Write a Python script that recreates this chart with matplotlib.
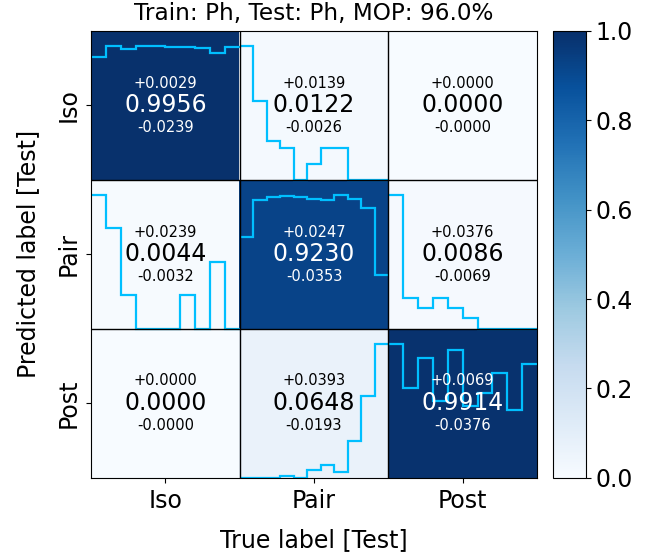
import numpy as np
import matplotlib
matplotlib.use("Agg")
import matplotlib.pyplot as plt

labels = ["Iso", "Pair", "Post"]
title = "Train: Ph, Test: Ph, MOP: 96.0%"

# confusion matrix (rows: predicted, cols: true)
cm = [[0.9956, 0.0122, 0.0000],
      [0.0044, 0.9230, 0.0086],
      [0.0000, 0.0648, 0.9914]]
err_plus = [[0.0029, 0.0139, 0.0000],
            [0.0239, 0.0247, 0.0376],
            [0.0000, 0.0393, 0.0069]]
err_minus = [[0.0239, 0.0026, 0.0000],
             [0.0032, 0.0353, 0.0069],
             [0.0000, 0.0193, 0.0376]]

# per-cell histograms (relative to max), None = no samples
hist_00 = [0.919, 0.999, 0.979, 0.997, 1.000, 0.993, 0.993, 0.987, 0.949, 0.991]
hist_01 = [1.000, 0.588, 0.294, 0.235, 0.0, 0.118, 0.235, 0.235, 0.0, 0.0, 0.0]
hist_02 = None
hist_10 = [1.000, 0.750, 0.250, 0.0, 0.0, 0.0, 0.250, 0.0, 0.500, 0.0]
hist_11 = [0.686, 0.964, 0.984, 0.989, 0.980, 0.972, 0.959, 1.000, 0.972, 0.902, 0.399]
hist_12 = [1.000, 0.231, 0.154, 0.231, 0.154, 0.077, 0.0, 0.0, 0.0, 0.0]
hist_20 = None
hist_21 = [0.0, 0.0, 0.0, 0.010, 0.0, 0.058, 0.094, 0.044, 0.277, 0.612, 1.000]
hist_22 = [1.000, 0.670, 0.894, 0.570, 0.954, 0.538, 0.633, 0.782, 0.508, 0.850]
hists = [[hist_00, hist_01, hist_02],
         [hist_10, hist_11, hist_12],
         [hist_20, hist_21, hist_22]]

W, H = 656, 557
fig = plt.figure(figsize=(W / 100, H / 100), dpi=100)
ax = fig.add_axes([91 / W, 1 - 477.7 / H, 446 / W, 446.7 / H])
cax = fig.add_axes([552.7 / W, 1 - 477.7 / H, 33.3 / W, 446.7 / H])

cmv = np.array(cm)
im = ax.imshow(cmv, cmap="Blues", vmin=0, vmax=1, aspect="auto")

for i in range(3):
    for j in range(3):
        h = hists[i][j]
        if h is None:
            continue
        h = np.asarray(h)
        edges = np.linspace(j - 0.5, j + 0.5, len(h) + 1)
        ax.stairs(i + 0.5 - 0.9 * h, edges, baseline=None,
                  color="#00BFFF", lw=1.6, zorder=2)

for k in (0.5, 1.5):
    ax.axvline(k, color="black", lw=1.0, zorder=3)
    ax.axhline(k, color="black", lw=1.0, zorder=3)

for i in range(3):
    for j in range(3):
        c = "white" if cmv[i, j] > 0.5 else "black"
        ax.text(j, i, f"{cmv[i, j]:.4f}", ha="center", va="center",
                fontsize=17, color=c, zorder=4)
        ax.text(j, i - 0.15, f"+{err_plus[i][j]:.4f}", ha="center", va="center",
                fontsize=10.5, color=c, zorder=4)
        ax.text(j, i + 0.15, f"-{err_minus[i][j]:.4f}", ha="center", va="center",
                fontsize=10.5, color=c, zorder=4)

ax.set_xlim(-0.5, 2.5)
ax.set_ylim(2.5, -0.5)
ax.set_xticks(range(3))
ax.set_xticklabels(labels, fontsize=17)
ax.set_yticks(range(3))
ax.set_yticklabels(labels, fontsize=17, rotation=90, va="center")
ax.tick_params(axis="x", pad=4.5)
ax.tick_params(axis="y", pad=4)
ax.set_xlabel("True label [Test]", fontsize=17, labelpad=11)
ax.set_ylabel("Predicted label [Test]", fontsize=17, labelpad=12)
ax.set_title(title, fontsize=16.7, pad=8)

cb = fig.colorbar(im, cax=cax)
cb.set_ticks([0, 0.2, 0.4, 0.6, 0.8, 1.0])
cb.ax.tick_params(labelsize=17)
cb.outline.set_linewidth(0.8)

fig.savefig("out.png", dpi=100)
